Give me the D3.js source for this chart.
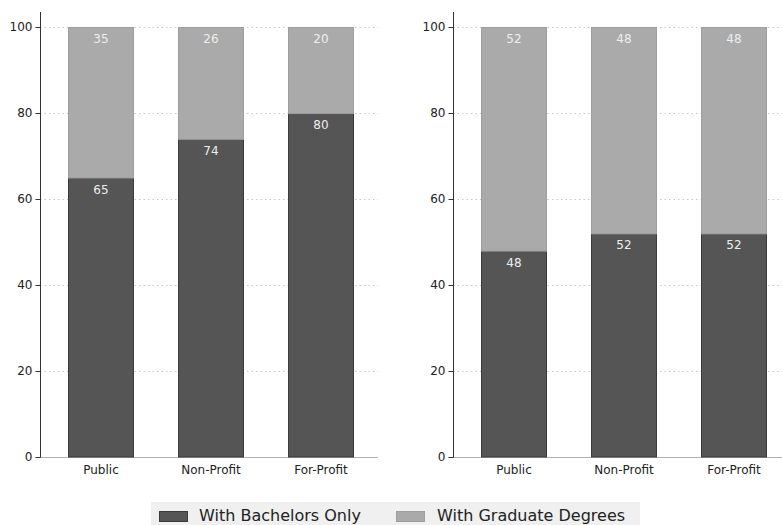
<!DOCTYPE html>
<html>
<head>
<meta charset="utf-8">
<script src="https://cdn.jsdelivr.net/npm/d3@7"></script>
<style>
  html, body { margin: 0; padding: 0; background: #fff; }
  svg { display: block; font-family: "DejaVu Sans", sans-serif; }
</style>
</head>
<body>
<svg id="chart" width="782" height="525"></svg>
<script>
// Institution types shown along the x axis of both panels
const categories = ["Public", "Non-Profit", "For-Profit"];

// Left panel: share (%) by highest degree
const leftBachelors = [65, 74, 80];
const leftGraduate = [35, 26, 20];

// Right panel: share (%) by highest degree
const rightBachelors = [48, 52, 52];
const rightGraduate = [52, 48, 48];

const yTicks = [0, 20, 40, 60, 80, 100];
const seriesNames = ["With Bachelors Only", "With Graduate Degrees"];
const seriesColors = ["#555555", "#aaaaaa"];
const seriesStrokes = ["#3a3a3a", "#9e9e9e"];

const svg = d3.select("#chart");

const y = d3.scaleLinear().domain([0, 100]).range([457, 27]);

function drawPanel(axisX, gridEnd, bachelors, graduate) {
  const g = svg.append("g");
  const x = d3.scaleBand()
    .domain(categories)
    .range([axisX + 6, axisX + 336])
    .paddingInner(0.4)
    .paddingOuter(0.2);

  // dotted gridlines
  g.selectAll("line.grid")
    .data(yTicks.filter(t => t > 0))
    .join("line")
    .attr("x1", axisX).attr("x2", gridEnd)
    .attr("y1", d => y(d) + 0.5).attr("y2", d => y(d) + 0.5)
    .attr("stroke", "#c8c8c8")
    .attr("stroke-dasharray", "1.5,3");

  // baseline
  g.append("line")
    .attr("x1", axisX).attr("x2", gridEnd)
    .attr("y1", y(0) + 0.5).attr("y2", y(0) + 0.5)
    .attr("stroke", "#b0b0b0");

  const rows = categories.map((c, i) => ({ c, b: bachelors[i], gr: graduate[i] }));

  // lower segment
  g.selectAll("rect.bach")
    .data(rows)
    .join("rect")
    .attr("x", d => x(d.c) + 0.5)
    .attr("width", x.bandwidth() - 1)
    .attr("y", d => y(d.b) + 0.5)
    .attr("height", d => y(0) - y(d.b) - 0.5)
    .attr("fill", seriesColors[0])
    .attr("stroke", seriesStrokes[0]);

  // upper segment
  g.selectAll("rect.grad")
    .data(rows)
    .join("rect")
    .attr("x", d => x(d.c) + 0.5)
    .attr("width", x.bandwidth() - 1)
    .attr("y", d => y(d.b + d.gr) + 0.5)
    .attr("height", d => y(d.b) - y(d.b + d.gr))
    .attr("fill", seriesColors[1])
    .attr("stroke", seriesStrokes[1]);

  // value labels near the top of each segment
  g.selectAll("text.vb")
    .data(rows)
    .join("text")
    .attr("x", d => x(d.c) + x.bandwidth() / 2)
    .attr("y", d => y(d.b) + 16)
    .attr("text-anchor", "middle")
    .attr("font-size", 12)
    .attr("fill", "#eeeeee")
    .text(d => d.b);

  g.selectAll("text.vg")
    .data(rows)
    .join("text")
    .attr("x", d => x(d.c) + x.bandwidth() / 2)
    .attr("y", d => y(d.b + d.gr) + 16)
    .attr("text-anchor", "middle")
    .attr("font-size", 12)
    .attr("fill", "#eeeeee")
    .text(d => d.gr);

  // y axis
  const yAxis = g.append("g")
    .attr("transform", `translate(${axisX + 0.5},0)`)
    .call(d3.axisLeft(y).tickValues(yTicks).tickSize(5).tickPadding(3).tickSizeOuter(0));
  yAxis.select(".domain").attr("d", `M0,12V${y(0) + 0.5}`).attr("stroke", "#333");
  yAxis.selectAll(".tick line").attr("stroke", "#333");
  yAxis.selectAll(".tick text")
    .attr("font-family", "DejaVu Sans, sans-serif")
    .attr("font-size", 12)
    .attr("fill", "#222");

  // category labels
  g.selectAll("text.cat")
    .data(categories)
    .join("text")
    .attr("x", d => x(d) + x.bandwidth() / 2)
    .attr("y", 474)
    .attr("text-anchor", "middle")
    .attr("font-size", 12)
    .attr("fill", "#222")
    .text(d => d);
}

drawPanel(40, 378, leftBachelors, leftGraduate);
drawPanel(453, 782, rightBachelors, rightGraduate);

// legend
const legend = svg.append("g");
legend.append("rect")
  .attr("x", 151).attr("y", 502)
  .attr("width", 489).attr("height", 25)
  .attr("fill", "#f0f0f0");

const legendX = [159, 396];
const legendTextX = [199, 437];
seriesNames.forEach((name, i) => {
  legend.append("rect")
    .attr("x", legendX[i] + 0.5).attr("y", 511.5)
    .attr("width", 28).attr("height", 10)
    .attr("fill", seriesColors[i])
    .attr("stroke", seriesStrokes[i]);
  legend.append("text")
    .attr("x", legendTextX[i]).attr("y", 521)
    .attr("font-size", 16)
    .attr("fill", "#222")
    .text(name);
});
</script>
</body>
</html>
